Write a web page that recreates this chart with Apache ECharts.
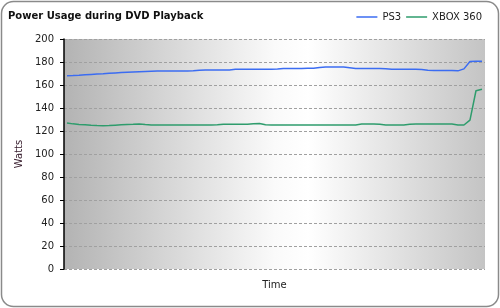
<!DOCTYPE html>
<html>
<head>
<meta charset="utf-8">
<script src="https://cdn.jsdelivr.net/npm/echarts@6/dist/echarts.min.js"></script>
<style>
html,body{margin:0;padding:0;background:#fff;}
#chart{width:500px;height:308px;}
</style>
</head>
<body>
<div id="chart"></div>
<script>
// Time samples (unlabelled on the x axis)
const timeSteps = Array.from({length: 70}, (_, i) => String(i + 1));

const ps3Watts = [
  168.0, 168.2, 168.5, 168.9, 169.2, 169.5, 169.8, 170.2, 170.5, 170.8,
  171.1, 171.3, 171.5, 171.7, 171.9, 172.1, 172.2, 172.2, 172.2, 172.2,
  172.2, 172.3, 172.9, 173.0, 173.0, 173.0, 173.0, 173.1, 173.6, 173.7,
  173.7, 173.7, 173.7, 173.7, 173.8, 173.9, 174.3, 174.4, 174.4, 174.4,
  174.5, 174.6, 175.2, 175.7, 175.7, 175.7, 175.6, 175.0, 174.4, 174.4,
  174.4, 174.4, 174.4, 174.2, 173.7, 173.6, 173.6, 173.6, 173.6, 173.4,
  172.8, 172.7, 172.7, 172.7, 172.7, 172.3, 174.0, 180.5, 180.6, 180.6
];

const xboxWatts = [
  127.0, 126.2, 125.7, 125.4, 125.0, 124.7, 124.6, 124.7, 125.1, 125.4,
  125.6, 125.8, 126.1, 125.6, 125.2, 125.2, 125.2, 125.2, 125.2, 125.2,
  125.2, 125.2, 125.2, 125.2, 125.2, 125.4, 125.8, 125.8, 125.8, 125.8,
  125.8, 126.2, 126.6, 125.5, 125.2, 125.2, 125.2, 125.2, 125.2, 125.2,
  125.2, 125.2, 125.2, 125.2, 125.2, 125.2, 125.2, 125.2, 125.3, 126.0,
  126.1, 126.1, 125.8, 125.2, 125.2, 125.2, 125.2, 125.8, 126.0, 126.0,
  126.0, 126.0, 126.0, 126.0, 126.0, 125.3, 125.2, 129.5, 155.0, 156.3
];

const yTicks = { min: 0, max: 200, interval: 20 };
const seriesNames = ['PS3', 'XBOX 360'];
const titleText = 'Power Usage during DVD Playback';

const FONT = 'DejaVu Sans';
const chart = echarts.init(document.getElementById('chart'), null, {renderer: 'canvas'});
chart.setOption({
  backgroundColor: '#ffffff',
  animation: false,
  title: {
    text: titleText,
    left: 8, top: 11, padding: 0,
    textStyle: {fontFamily: FONT, fontSize: 10, fontWeight: 'bold', color: '#111'}
  },
  legend: {
    data: seriesNames,
    right: 18, top: 12, padding: 0,
    icon: 'rect', itemWidth: 21, itemHeight: 1.5, itemGap: 5,
    textStyle: {fontFamily: FONT, fontSize: 10, color: '#222'}
  },
  graphic: [{
    type: 'rect',
    shape: {x: 1.5, y: 1.5, width: 497, height: 305, r: 12},
    style: {fill: null, stroke: '#8a8a8a', lineWidth: 1.5},
    silent: true, z: 100
  }],
  grid: {
    left: 64, right: 15, top: 39, bottom: 39,
    show: true, borderWidth: 0,
    backgroundColor: {
      type: 'linear', x: 0, y: 0, x2: 1, y2: 0,
      colorStops: [
        {offset: 0, color: '#b3b3b3'},
        {offset: 0.5, color: '#fafafa'},
        {offset: 0.58, color: '#ffffff'},
        {offset: 1, color: '#c4c4c4'}
      ]
    }
  },
  xAxis: {
    type: 'category',
    data: timeSteps,
    boundaryGap: true,
    name: 'Time', nameLocation: 'middle', nameGap: 11,
    nameTextStyle: {fontFamily: FONT, fontSize: 10, color: '#222'},
    axisLine: {show: false}, axisTick: {show: false}, axisLabel: {show: false},
    splitLine: {show: false}
  },
  yAxis: {
    type: 'value',
    min: yTicks.min, max: yTicks.max, interval: yTicks.interval,
    name: 'Watts', nameLocation: 'middle', nameGap: 31,
    nameTextStyle: {fontFamily: FONT, fontSize: 10, color: '#3a2030'},
    axisLine: {show: true, lineStyle: {color: '#000', width: 1.5}},
    axisTick: {show: true, length: 4, lineStyle: {color: '#000'}},
    axisLabel: {fontFamily: FONT, fontSize: 10, color: '#222', margin: 10},
    splitLine: {show: true, lineStyle: {color: '#a0a0a0', type: [3, 2], width: 1}}
  },
  series: [
    {name: seriesNames[0], type: 'line', data: ps3Watts, showSymbol: false,
     lineStyle: {color: '#3b6cf2', width: 1.5}, itemStyle: {color: '#3b6cf2'}},
    {name: seriesNames[1], type: 'line', data: xboxWatts, showSymbol: false,
     lineStyle: {color: '#2e9c6c', width: 1.5}, itemStyle: {color: '#2e9c6c'}}
  ]
});
</script>
</body>
</html>
